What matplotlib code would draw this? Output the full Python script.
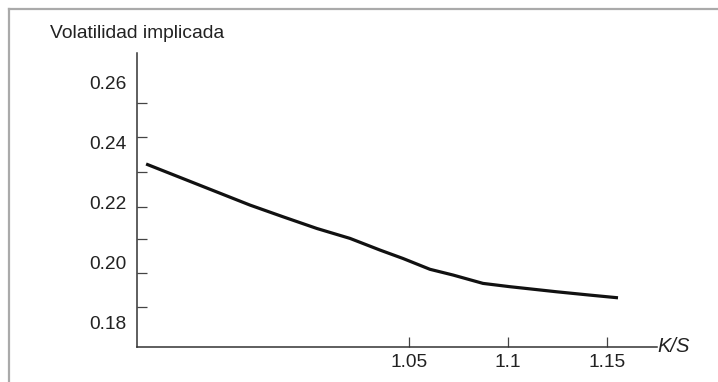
import matplotlib.pyplot as plt
from matplotlib.lines import Line2D

# data
ks = [0.9172, 0.9444, 0.9697, 0.9864, 1.0035, 1.0202, 1.0354, 1.0470,
      1.0606, 1.0722, 1.0874, 1.1010, 1.1247, 1.1414, 1.1556]
vol = [0.2327, 0.2256, 0.2190, 0.2151, 0.2112, 0.2079, 0.2040, 0.2012,
       0.1976, 0.1957, 0.1929, 0.1918, 0.1901, 0.1890, 0.1881]

y_labels = [0.18, 0.20, 0.22, 0.24, 0.26]
# the printed tick marks do not sit on the labels in the original
y_marks = [0.1851, 0.1964, 0.2077, 0.2184, 0.2301, 0.2418, 0.2529]
x_ticks = [1.05, 1.10, 1.15]
x_labels = ["1.05", "1.1", "1.15"]

plt.rcParams["font.family"] = ["Liberation Sans", "DejaVu Sans"]
txt = "#222222"

fig = plt.figure(figsize=(7.18, 3.82), dpi=100)
ax = fig.add_axes([137/718, 1-347/382, 520/718, 294/382])

ax.plot(ks, vol, color="#111111", lw=2.3, solid_capstyle="butt",
        solid_joinstyle="round")

ax.set_xlim(0.9126, 1.1753)
ax.set_ylim(0.1717, 0.2697)

for s in ["top", "right"]:
    ax.spines[s].set_visible(False)
for s in ["left", "bottom"]:
    ax.spines[s].set_linewidth(1.1)
    ax.spines[s].set_color("#333333")

ax.set_yticks(y_labels)
ax.set_yticklabels(["%.2f" % v for v in y_labels])
ax.set_yticks(y_marks, minor=True)
ax.tick_params(axis="y", which="major", length=0, pad=7.5, labelsize=13.8, labelcolor=txt)
ax.tick_params(axis="y", which="minor", direction="in", length=7.5, width=0.9, color="#444444")

ax.set_xticks(x_ticks)
ax.set_xticklabels(x_labels)
ax.tick_params(axis="x", which="major", direction="in", length=7.5, width=0.9,
               color="#444444", pad=5, labelsize=13.8, labelcolor=txt)

fig.text(50/718, 1-33/382, "Volatilidad implicada", fontsize=13.9, color=txt,
         ha="left", va="center")
ax.text(1.0, 0.0, "K/S", transform=ax.transAxes, fontsize=14.5, style="italic",
        color=txt, ha="left", va="center")

# light grey frame, only top and left edges show
fig.add_artist(Line2D([9/718, 1], [1-9/382, 1-9/382], color="#aaaaaa", lw=1.6))
fig.add_artist(Line2D([9/718, 9/718], [0, 1-9/382], color="#aaaaaa", lw=1.6))

fig.savefig("out.png", dpi=100)
